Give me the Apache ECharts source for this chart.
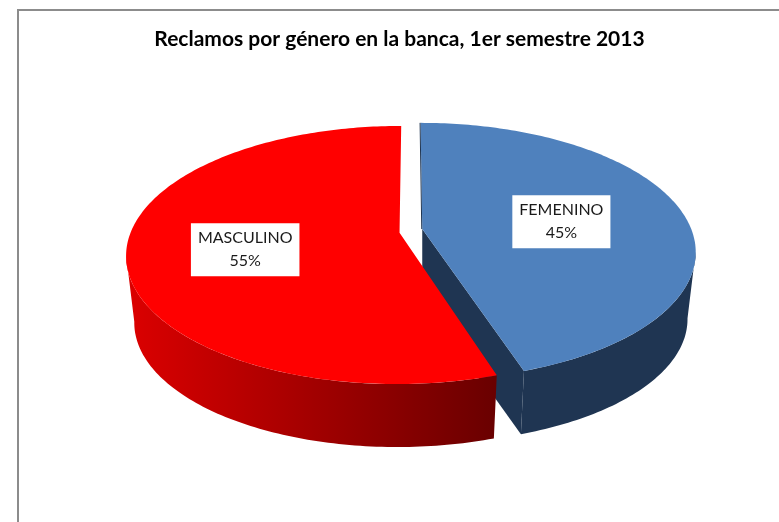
<!DOCTYPE html>
<html>
<head>
<meta charset="utf-8">
<title>Reclamos por género</title>
<script src="https://cdn.jsdelivr.net/npm/echarts@6/dist/echarts.min.js"></script>
<style>
  html, body { margin: 0; padding: 0; background: #fff; }
  #main { width: 779px; height: 522px; }
</style>
</head>
<body>
<div id="main"></div>
<script>
var chart_title = 'Reclamos por género en la banca, 1er semestre 2013';
var categories = ['FEMENINO', 'MASCULINO'];
var values = [45, 55];

// look of each slice: top face, side band, label nudge
var top_colors = ['#4f81bd', '#ff0000'];
var side_colors = ['#1f3552', null];
var label_nudge = [[-3, 3], [-4, 6]];

// the fake 3d pie: centre, explode distance, perspective
var center_x = 410.9;
var center_y = 230.9;
var explode = 11.5;
var radius_x = 269;
var radius_y = 124.9;
var persp = 0.1728;
var depth = 67.5;
var base_scale = 0.97;

var chart = echarts.init(document.getElementById('main'), null, { renderer: 'canvas' });

// the explode offset goes through the same perspective as the rim
function toPoint(apex, angle) {
  var w = 1 + persp * Math.cos(angle);
  return [
    center_x + (apex[0] - center_x + radius_x * Math.sin(angle)) / w,
    center_y + (apex[1] - center_y - radius_y * Math.cos(angle)) / w
  ];
}

function toBase(apex, p) {
  return [
    apex[0] + base_scale * (p[0] - apex[0]),
    apex[1] + base_scale * (p[1] - apex[1]) + depth
  ];
}

function arcPoints(apex, a0, a1) {
  var pts = [];
  var n = Math.ceil((a1 - a0) / (Math.PI / 180));
  for (var i = 0; i <= n; i++) {
    pts.push(toPoint(apex, a0 + (a1 - a0) * i / n));
  }
  return pts;
}

function renderSlice(params, api) {
  var i = params.dataIndex;
  var total = values.reduce(function (a, b) { return a + b; }, 0);
  var before = values.slice(0, i).reduce(function (a, b) { return a + b; }, 0);
  var a0 = before / total * Math.PI * 2;
  var a1 = (before + api.value(0)) / total * Math.PI * 2;
  var mid = (a0 + a1) / 2;
  var apex = [center_x + explode * Math.sin(mid), center_y - explode * Math.cos(mid)];

  var arc = arcPoints(apex, a0, a1);
  var baseApex = toBase(apex, apex);
  var sideFill = side_colors[i] || new echarts.graphic.LinearGradient(0, 0, 1, 0, [
    { offset: 0, color: '#dc0000' },
    { offset: 0.75, color: '#860000' },
    { offset: 1, color: '#690000' }
  ]);

  var children = [];
  // outer band, only the front part between the two silhouette angles
  var edge = Math.acos(-persp);
  var bandArc = arcPoints(apex, Math.max(a0, edge), Math.min(a1, Math.PI * 2 - edge));
  var baseArc = bandArc.map(function (p) { return toBase(apex, p); }).reverse();
  children.push({
    type: 'polygon',
    shape: { points: bandArc.concat(baseArc) },
    style: { fill: sideFill }
  });
  // cut wall at the end of the slice, red one is hidden anyway
  var last = arc[arc.length - 1];
  if (side_colors[i]) {
    children.push({
      type: 'polygon',
      shape: { points: [apex, last, toBase(apex, last), baseApex] },
      style: { fill: side_colors[i] }
    });
  }
  // top face
  children.push({
    type: 'polygon',
    shape: { points: [apex].concat(arc) },
    style: { fill: top_colors[i] }
  });
  // thin dark sliver on the back edge of the blue slice
  if (side_colors[i]) {
    children.push({
      type: 'line',
      shape: { x1: apex[0] - 0.5, y1: apex[1], x2: arc[0][0] - 0.5, y2: arc[0][1] },
      style: { stroke: side_colors[i], lineWidth: 1 }
    });
  }
  // label
  var u = toPoint(apex, mid);
  children.push({
    type: 'text',
    x: apex[0] + (u[0] - apex[0]) * 0.55 + label_nudge[i][0],
    y: apex[1] + (u[1] - apex[1]) * 0.55 + label_nudge[i][1],
    style: {
      text: categories[i] + '\n' + api.value(0) + '%',
      fontFamily: 'Lato',
      fontSize: 16,
      lineHeight: 23,
      fill: '#1a1a1a',
      align: 'center',
      verticalAlign: 'middle',
      backgroundColor: '#fff',
      padding: [4, 7, 3, 7]
    }
  });
  return { type: 'group', children: children };
}

var option = {
  animation: false,
  title: {
    text: chart_title,
    left: 394.5,
    top: 24,
    textAlign: 'center',
    textStyle: { fontFamily: 'Lato', fontSize: 21, fontWeight: 'bold', color: '#000' }
  },
  graphic: [{
    type: 'rect',
    shape: { x: 18, y: 10, width: 900, height: 700 },
    style: { fill: 'none', stroke: '#8c8c8c', lineWidth: 2 },
    silent: true
  }],
  series: [{
    type: 'custom',
    coordinateSystem: 'none',
    silent: true,
    renderItem: renderSlice,
    data: values.map(function (v) { return [v]; })
  }]
};

chart.setOption(option);
window.addEventListener('resize', chart.resize);
</script>
</body>
</html>
